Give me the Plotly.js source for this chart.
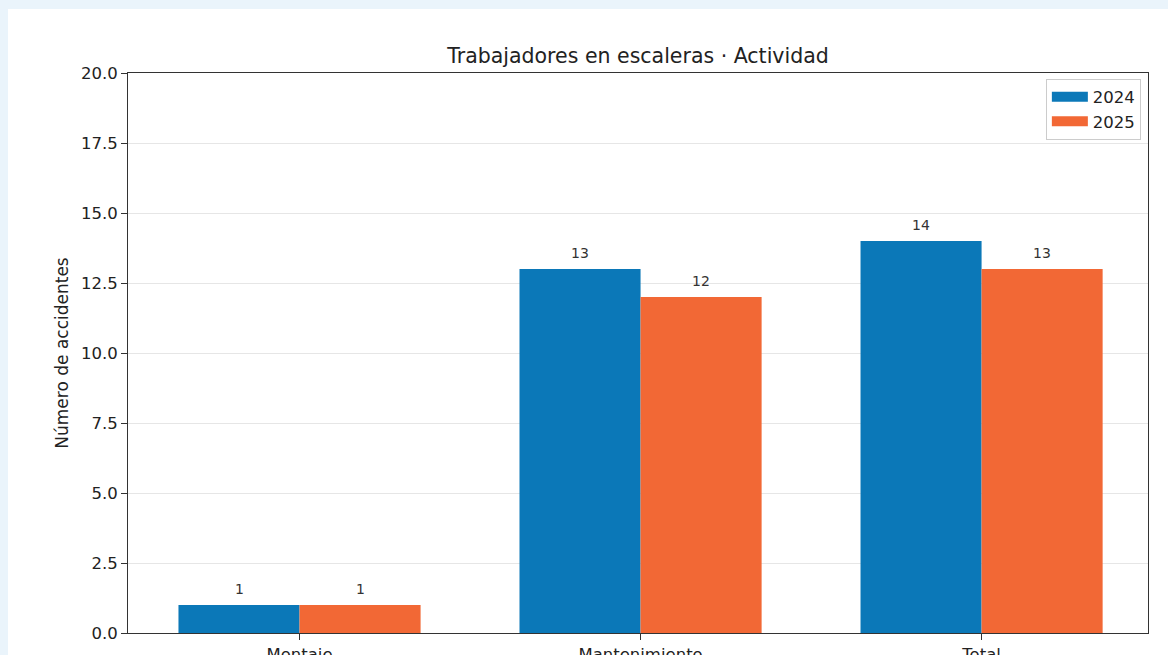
<!DOCTYPE html>
<html><head><meta charset="utf-8">
<script src="https://cdn.plot.ly/plotly-3.0.1.min.js"></script>
<style>
html,body{margin:0;padding:0;background:#eaf4fb;overflow:hidden;width:1168px;height:655px;}
#card{position:absolute;left:8px;top:9px;width:1160px;height:700px;background:#fff;}
#chart{width:1160px;height:700px;}
</style></head><body>
<div id="card"><div id="chart"></div></div>
<script>
const categories = ["Montaje", "Mantenimiento", "Total"];
const years = ["2024", "2025"];
const values2024 = [1, 13, 14];
const values2025 = [1, 12, 13];
const yTicks = [0, 2.5, 5, 7.5, 10, 12.5, 15, 17.5, 20];
const colors = ["#0b78b8", "#f26835"];
const xpos = categories.map((c, i) => i);
const series = [values2024, values2025];
const font = "DejaVu Sans, sans-serif";
const barW = 0.355;
const traces = series.map((vals, k) => ({
  type: "bar", name: years[k], x: xpos, y: vals, width: barW,
  offset: (k === 0 ? -barW : 0),
  marker: {color: colors[k], line: {width: 0}},
  showlegend: false, hoverinfo: "skip"
}));
// legend swatches (wide rectangles like the reference)
series.forEach((vals, k) => traces.push({
  type: "scatter", mode: "lines", name: years[k], x: [null], y: [null],
  line: {color: colors[k], width: 11}, showlegend: true, hoverinfo: "skip"
}));
const annotations = [];
series.forEach((vals, k) => vals.forEach((v, i) => annotations.push({
  x: i + (k === 0 ? -barW / 2 : barW / 2), y: v, xref: "x", yref: "y",
  text: String(v), showarrow: false, yanchor: "bottom", yshift: 6,
  font: {family: font, size: 14, color: "#333"}
})));
const layout = {
  margin: {l: 120, r: 20, t: 64, b: 76},
  paper_bgcolor: "rgba(0,0,0,0)", plot_bgcolor: "#fff",
  barmode: "overlay",
  title: {text: "Trabajadores en escaleras · Actividad", font: {family: font, size: 20.5, color: "#222"},
    x: 0.5, xref: "paper", xanchor: "center", y: 1, yref: "paper", yanchor: "bottom", pad: {b: 10}},
  xaxis: {range: [-0.503, 2.488], tickvals: xpos, ticktext: categories, showgrid: false, zeroline: false,
    showline: true, linecolor: "#333", linewidth: 1, mirror: true, ticks: "outside", ticklen: 6, tickcolor: "#333",
    tickfont: {family: font, size: 16.5, color: "#222"}},
  yaxis: {range: [0, 20], tickvals: yTicks, ticktext: yTicks.map(v => v.toFixed(1)), showgrid: true, gridcolor: "#e6e6e6",
    zeroline: false, showline: true, linecolor: "#333", linewidth: 1, mirror: true, ticks: "outside", ticklen: 6, tickcolor: "#333",
    tickfont: {family: font, size: 16.5, color: "#222"},
    title: {text: "Número de accidentes", font: {family: font, size: 17, color: "#222"}, standoff: 8}},
  legend: {x: 0.993, xanchor: "right", y: 0.99, yanchor: "top", bgcolor: "rgba(255,255,255,0.8)",
    bordercolor: "#ccc", borderwidth: 1, itemwidth: 36, font: {family: font, size: 16.5, color: "#222"}},
  annotations: annotations,
  showlegend: true
};
Plotly.newPlot("chart", traces, layout, {displayModeBar: false, staticPlot: true});
</script></body></html>
